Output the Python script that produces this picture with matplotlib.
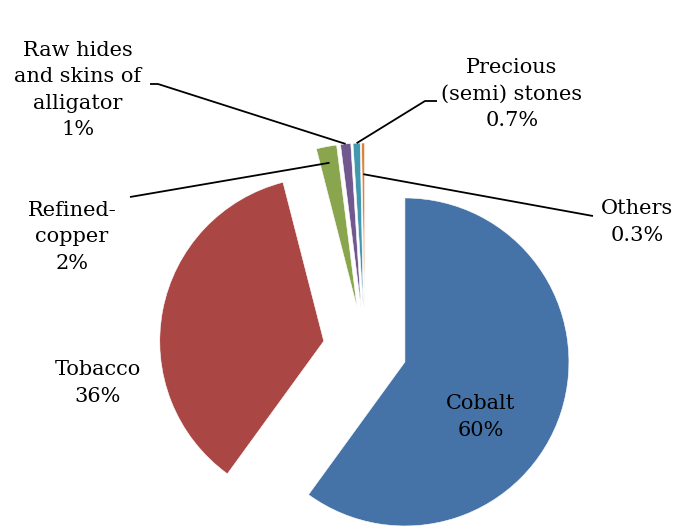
import numpy as np
import matplotlib
matplotlib.use("Agg")
import matplotlib.pyplot as plt

# data
products = ["Cobalt", "Tobacco", "Refined-\ncopper", "Raw hides\nand skins of\nalligator",
            "Precious\n(semi) stones", "Others"]
shares = [60, 36, 2, 1, 0.7, 0.3]
share_text = ["60%", "36%", "2%", "1%", "0.7%", "0.3%"]
colors = ["#4572A7", "#AA4643", "#89A54E", "#71588F", "#4198AF", "#DB843D"]

# layout (pixel positions in the 676x527 picture)
W, H = 676, 527
CX, CY, R = 365, 349, 164
label_pos = [(481, 417), (98, 383), (72, 237), (78, 90), (512, 94), (637, 222)]
# leader: (start point near text, knee or None, radius fraction on wedge)
leaders = [None, None,
           ((130, 197), None, 0.9),
           ((150, 84), (158, 84), 1.0),
           ((437, 101), (425, 101), 1.0),
           ((593, 216), None, 0.81)]


def px(x, y):
    return ((x - CX) / R, (CY - y) / R)


fig = plt.figure(figsize=(W / 100, H / 100), dpi=100)
ax = fig.add_axes([0, 0, 1, 1])
wedges, _ = ax.pie(shares, colors=colors, startangle=90, counterclock=False,
                   explode=[0.256] * len(shares), radius=1,
                   wedgeprops=dict(edgecolor="white", linewidth=0.4))
ax.set_xlim(-CX / R, (W - CX) / R)
ax.set_ylim(-(H - CY) / R, CY / R)
ax.set_aspect("equal", adjustable="box")
ax.axis("off")

font = dict(family="DejaVu Serif", fontsize=15, color="black",
            ha="center", va="center", linespacing=1.5)
for i, (name, pct) in enumerate(zip(products, share_text)):
    x, y = px(*label_pos[i])
    ax.text(x, y, name + "\n" + pct, **font)
    if leaders[i] is None:
        continue
    start, knee, frac = leaders[i]
    w = wedges[i]
    mid = np.deg2rad((w.theta1 + w.theta2) / 2)
    ex = w.center[0] + frac * w.r * np.cos(mid)
    ey = w.center[1] + frac * w.r * np.sin(mid)
    pts = [px(*start)]
    if knee is not None:
        pts.append(px(*knee))
    pts.append((ex, ey))
    xs, ys = zip(*pts)
    ax.plot(xs, ys, color="black", linewidth=1.3, solid_capstyle="butt")

fig.savefig("out.png", dpi=100)
